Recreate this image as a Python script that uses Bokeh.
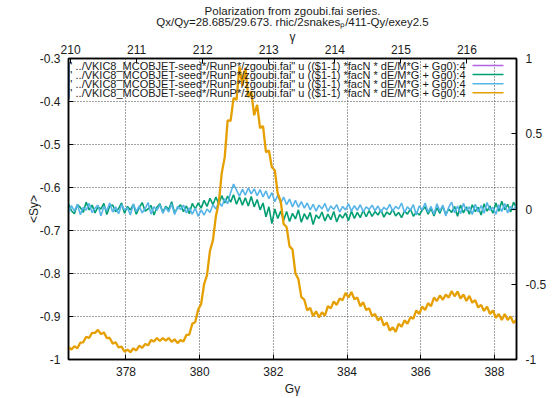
import numpy as np
from bokeh.plotting import figure
from bokeh.models import Range1d, LinearAxis, FixedTicker, CustomJSTickFormatter, Label, Title
from bokeh.embed import file_html
from bokeh.resources import INLINE

# ---------------- data ----------------
G_PROTON = 1.7928474
GG_MIN, GG_MAX = 376.44, 388.6          # G*gamma span of the frame

left_ticks = [-1.0, -0.9, -0.8, -0.7, -0.6, -0.5, -0.4, -0.3]
right_ticks = [-1.0, -0.5, 0.0, 0.5, 1.0]
bottom_ticks = [378, 380, 382, 384, 386, 388]
top_ticks = [210, 211, 212, 213, 214, 215, 216]

title_lines = ["Polarization from zgoubi.fai series.",
               "Qx/Qy=28.685/29.673. rhic/2snakes\u209a/411-Qy/exey2.5"]
x_label, x2_label, y_label = "G\u03b3", "\u03b3", "<Sy>"
legend_text = "i], a[i]/n[i]' ../VKIC8_MCOBJET-seed*/RunP*/zgoubi.fai\" u (($1-1) *facN * dE/M*G + Gg0):4"
series_colors = ["#b062e0", "#009e73", "#56b4e9", "#e69f00"]

purple = []   # nothing visible in the frame

green = [-0.638, -0.654, -0.661, -0.640, -0.646, -0.658, -0.634, -0.652, -0.641, -0.659,
         -0.645, -0.650, -0.637, -0.663, -0.643, -0.641, -0.656, -0.649, -0.636, -0.660,
         -0.644, -0.652, -0.639, -0.662, -0.647, -0.635, -0.655, -0.650, -0.642, -0.664,
         -0.646, -0.638, -0.657, -0.644, -0.651, -0.633, -0.659, -0.648, -0.640, -0.656,
         -0.643, -0.661, -0.637, -0.650,
         -0.636, -0.648, -0.630, -0.644, -0.625, -0.640, -0.622, -0.638, -0.619, -0.636,
         -0.620, -0.634, -0.617, -0.639,
         -0.622, -0.641, -0.624, -0.643, -0.621, -0.645, -0.628,
         -0.652, -0.636, -0.668, -0.645, -0.684, -0.650, -0.672, -0.655,
         -0.676, -0.656, -0.679, -0.660, -0.673, -0.652, -0.681, -0.661, -0.674, -0.658,
         -0.686, -0.664, -0.672, -0.657, -0.678, -0.662, -0.675, -0.656, -0.680, -0.663,
         -0.671, -0.659, -0.677,
         -0.655, -0.672, -0.658, -0.670, -0.653, -0.668,
         -0.654, -0.667, -0.656, -0.664, -0.652, -0.669, -0.657, -0.663, -0.651, -0.666,
         -0.658, -0.670, -0.655, -0.662, -0.650, -0.667, -0.657, -0.664, -0.653,
         -0.645, -0.662, -0.649, -0.666, -0.647, -0.660, -0.643, -0.663, -0.650, -0.658,
         -0.644, -0.667,
         -0.641, -0.659, -0.645, -0.662, -0.640, -0.656, -0.646, -0.664, -0.638, -0.655,
         -0.643, -0.660, -0.636,
         -0.655, -0.632, -0.652, -0.639, -0.657, -0.634, -0.648]

blue = [-0.660, -0.642, -0.655, -0.639, -0.663, -0.646, -0.653, -0.637, -0.658, -0.648,
        -0.641, -0.666, -0.644, -0.654, -0.636, -0.657, -0.645, -0.661, -0.640, -0.652,
        -0.647, -0.664, -0.638, -0.656, -0.643, -0.659, -0.649, -0.635, -0.662, -0.645,
        -0.653, -0.640, -0.660, -0.646, -0.657, -0.638, -0.663, -0.644, -0.651, -0.641,
        -0.659, -0.647,
        -0.662, -0.648, -0.667, -0.652, -0.664, -0.650,
        -0.658, -0.640, -0.650, -0.633, -0.644, -0.626,
        -0.638, -0.612, -0.592, -0.606,
        -0.620, -0.604, -0.618, -0.601, -0.615, -0.603, -0.619, -0.605, -0.622,
        -0.608, -0.626, -0.612, -0.633, -0.618, -0.637,
        -0.622, -0.640, -0.627, -0.645, -0.630, -0.646, -0.633, -0.648,
        -0.636, -0.652, -0.639, -0.655, -0.641, -0.650, -0.637, -0.656, -0.643, -0.651,
        -0.640, -0.657, -0.644, -0.652, -0.638,
        -0.655, -0.642, -0.653, -0.640, -0.656, -0.645, -0.651, -0.641, -0.654, -0.643,
        -0.657, -0.646, -0.652, -0.639, -0.655, -0.644, -0.650, -0.636, -0.658, -0.645,
        -0.653, -0.640, -0.664, -0.643, -0.652,
        -0.636, -0.658, -0.644, -0.662, -0.638, -0.655, -0.641, -0.666, -0.646, -0.634,
        -0.659, -0.643, -0.661, -0.637, -0.654, -0.645, -0.663, -0.639, -0.657, -0.642,
        -0.660, -0.635, -0.653, -0.646, -0.662, -0.640, -0.656, -0.637, -0.659, -0.644,
        -0.652, -0.641]

orange = [-0.971, -0.977, -0.969, -0.974, -0.961, -0.960, -0.947, -0.950, -0.938, -0.938,
          -0.931, -0.941, -0.937, -0.950, -0.950, -0.963, -0.960, -0.972, -0.970, -0.982,
          -0.977, -0.983, -0.974, -0.979, -0.968, -0.973, -0.964, -0.967, -0.955, -0.958,
          -0.950, -0.957, -0.950, -0.956, -0.950, -0.959, -0.953, -0.962, -0.955, -0.958,
          -0.943, -0.942, -0.917, -0.913, -0.884, -0.871, -0.825, -0.804, -0.747, -0.723,
          -0.667, -0.635, -0.566, -0.530, -0.444, -0.445, -0.392, -0.396, -0.318, -0.364,
          -0.322, -0.390, -0.376, -0.432, -0.408, -0.462, -0.457, -0.518, -0.514, -0.553,
          -0.560, -0.614, -0.632, -0.685, -0.692, -0.737, -0.744, -0.800, -0.813, -0.855,
          -0.861, -0.886, -0.880, -0.899, -0.888, -0.902, -0.890, -0.898, -0.876, -0.881,
          -0.865, -0.873, -0.858, -0.862, -0.845, -0.856, -0.843, -0.860, -0.856, -0.876,
          -0.867, -0.885, -0.881, -0.899, -0.894, -0.909, -0.902, -0.921, -0.914, -0.933,
          -0.925, -0.936, -0.917, -0.924, -0.909, -0.917, -0.902, -0.905, -0.886, -0.894,
          -0.877, -0.885, -0.869, -0.876, -0.856, -0.864, -0.851, -0.861, -0.849, -0.856,
          -0.841, -0.853, -0.842, -0.858, -0.849, -0.864, -0.852, -0.868, -0.862, -0.879,
          -0.873, -0.887, -0.877, -0.894, -0.886, -0.903, -0.894, -0.908, -0.894, -0.908,
          -0.900, -0.915, -0.907]

# ---------------- layout ----------------
W, H = 558, 398
FL, FR, FT, FB = 68, 516, 58, 359
FONT = "Liberation Sans"
TXT = "#1a1a1a"

p = figure(width=W, height=H, x_range=Range1d(GG_MIN, GG_MAX), y_range=Range1d(-1.0, -0.3),
           output_backend="svg", toolbar_location=None, title_location=None,
           x_axis_location=None, y_axis_location=None,
           min_border_left=FL, min_border_right=W - FR, min_border_top=FT, min_border_bottom=H - FB)
p.extra_x_ranges = {"gam": Range1d(GG_MIN / G_PROTON, GG_MAX / G_PROTON)}
p.extra_y_ranges = {"y2": Range1d(-1.0, 1.0)}
p.background_fill_color = "white"
p.border_fill_color = "white"
p.outline_line_color = "black"
p.outline_line_width = 1.5

fmt = CustomJSTickFormatter(code="return String(Math.round(tick*10)/10);")


def style_axis(ax, standoff, label=None, label_standoff=0):
    ax.formatter = fmt
    ax.major_tick_in = 5
    ax.major_tick_out = 0
    ax.minor_tick_line_color = None
    ax.axis_line_color = "black"
    ax.axis_line_width = 1.5
    ax.major_tick_line_color = "black"
    ax.major_label_text_font = FONT
    ax.major_label_text_font_size = "12px"
    ax.major_label_text_color = TXT
    ax.major_label_standoff = standoff
    if label:
        ax.axis_label = label
        ax.axis_label_text_font = FONT
        ax.axis_label_text_font_size = "12px"
        ax.axis_label_text_font_style = "normal"
        ax.axis_label_text_color = TXT
        ax.axis_label_standoff = label_standoff


ax_b = LinearAxis(ticker=FixedTicker(ticks=bottom_ticks))
style_axis(ax_b, 7, x_label, 3)
p.add_layout(ax_b, "below")
ax_l = LinearAxis(ticker=FixedTicker(ticks=left_ticks))
style_axis(ax_l, 8, y_label, -4)
p.add_layout(ax_l, "left")
ax_t = LinearAxis(x_range_name="gam", ticker=FixedTicker(ticks=top_ticks))
style_axis(ax_t, 5, x2_label, -2)
p.add_layout(ax_t, "above")
ax_r = LinearAxis(y_range_name="y2", ticker=FixedTicker(ticks=right_ticks))
style_axis(ax_r, 9)
p.add_layout(ax_r, "right")

# title lines: the later one added sits further out
for line in reversed(title_lines):
    p.add_layout(Title(text=line, align="center", text_font=FONT, text_font_size="11.5px",
                       text_font_style="normal", text_color=TXT, standoff=-3), "above")

for g, ticks in ((p.xgrid[0], bottom_ticks), (p.ygrid[0], left_ticks)):
    g.ticker = FixedTicker(ticks=ticks)
    g.grid_line_color = "#444444"
    g.grid_line_dash = "1 2"
    g.grid_line_width = 1

# ---------------- series ----------------
all_series = [purple, green, blue, orange]
for vals, col, lw in zip(all_series, series_colors, [1.5, 1.6, 1.6, 2.3]):
    if len(vals) == 0:
        continue
    xs = np.linspace(GG_MIN, GG_MAX, len(vals))
    p.line(xs, vals, line_color=col, line_width=lw)


# ---------------- legend (text left of sample, gnuplot style) ----------------
def gg_of(cx):
    return GG_MIN + (cx - FL) / (FR - FL) * (GG_MAX - GG_MIN)


def v_of(cy):
    return -0.3 - (cy - FT) / (FB - FT) * 0.7


for k, col in enumerate(series_colors):
    cy = 65 + 9.1 * k
    p.add_layout(Label(x=gg_of(465), y=v_of(cy), text=legend_text,
                       text_font=FONT, text_font_size="11px", text_align="right",
                       text_baseline="middle", text_color=TXT))
    p.segment(x0=[gg_of(472)], y0=[v_of(cy)], x1=[gg_of(503)], y1=[v_of(cy)],
              line_color=col, line_width=1.5)

open("out.html", "w").write(file_html(p, INLINE))
